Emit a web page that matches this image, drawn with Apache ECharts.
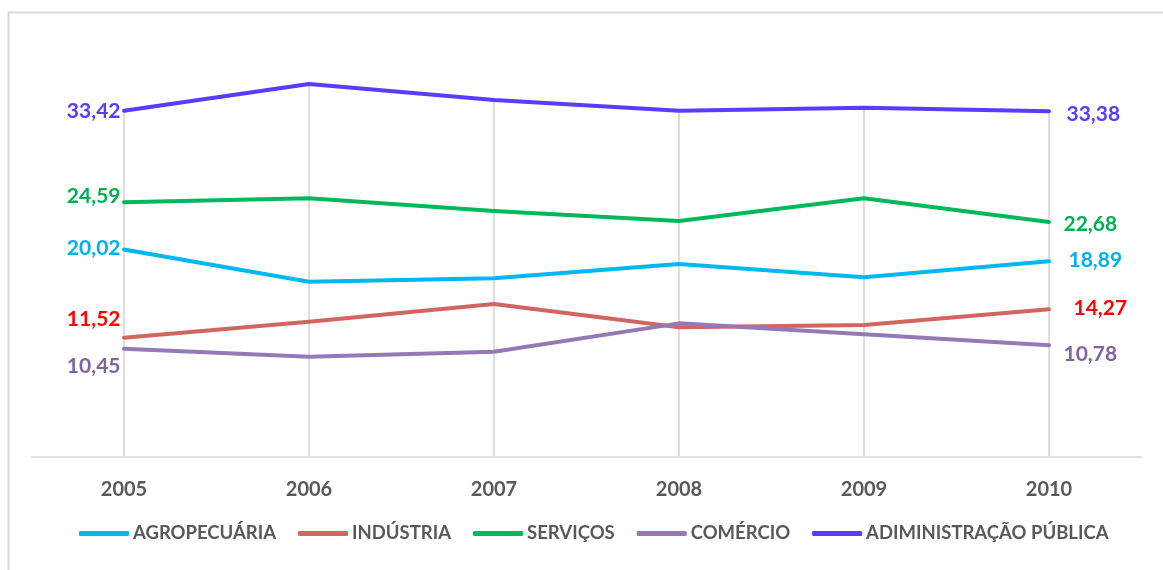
<!DOCTYPE html>
<html><head><meta charset="utf-8">
<script src="https://cdn.jsdelivr.net/npm/echarts@6/dist/echarts.min.js"></script>
<style>html,body{margin:0;padding:0;background:#fff}#c{width:1163px;height:570px}</style>
</head><body><div id="c"></div>
<script>
const years = ['2005','2006','2007','2008','2009','2010'];
const agropecuaria = [20.02, 16.92, 17.25, 18.63, 17.35, 18.89];
const industria = [11.52, 13.06, 14.77, 12.52, 12.74, 14.27];
const servicos = [24.59, 24.97, 23.75, 22.78, 24.98, 22.68];
const comercio = [10.45, 9.68, 10.16, 12.90, 11.84, 10.78];
const administracao = [33.42, 36.00, 34.46, 33.43, 33.70, 33.38];

const names = ['AGROPECUÁRIA','INDÚSTRIA','SERVIÇOS','COMÉRCIO','ADIMINISTRAÇÃO PÚBLICA'];
const lineColors = ['#00B7F1','#D0665E','#00B85C','#9479B4','#5B3BFF'];
const labelColors = ['#00B0F0','#FF0000','#00B050','#8064A2','#5B3BFF'];
const seriesData = [agropecuaria, industria, servicos, comercio, administracao];
const leftOff = [-1, -18, -6, 17, 0];
const rightOff = [-1, -1, 2, 9, 3];
const rightDist = [19, 24, 14, 14, 17];

const fmt = v => v.toFixed(2).replace('.', ',');
const font = 'Lato, "Open Sans", sans-serif';

const chart = echarts.init(document.getElementById('c'));
const series = seriesData.map((arr, s) => ({
  name: names[s], type: 'line', z: 3,
  symbol: 'circle', symbolSize: 1, showSymbol: true, showAllSymbol: true,
  lineStyle: { color: lineColors[s], width: 4, cap: 'round', join: 'round' },
  itemStyle: { color: lineColors[s] },
  emphasis: { disabled: true },
  data: arr.map((v, i) => {
    const d = { value: v };
    if (i === 0) d.label = { show: true, position: 'left', distance: 3, offset: [0, leftOff[s]] };
    else if (i === arr.length - 1) d.label = { show: true, position: 'right', distance: rightDist[s], offset: [0, rightOff[s]] };
    else d.label = { show: false };
    return d;
  }),
  label: { color: labelColors[s], fontFamily: font, fontWeight: 'bold', fontSize: 21, formatter: p => fmt(p.value) }
}));
series.unshift({
  name: 'drop', type: 'bar', barWidth: 2, silent: true, z: 1,
  itemStyle: { color: '#DEDEDE' },
  data: years.map((y, i) => Math.max(...seriesData.map(a => a[i])))
});

chart.setOption({
  backgroundColor: '#fff',
  animation: false,
  graphic: [{ type: 'rect', shape: { x: 8.5, y: 12.5, width: 1300, height: 700 }, style: { fill: 'none', stroke: '#D9D9D9', lineWidth: 2 }, silent: true }],
  grid: { left: 31.5, right: 21.5, top: 42.6, bottom: 113 },
  legend: {
    data: names, bottom: 22, left: 74, itemWidth: 50, itemHeight: 5, itemGap: 22,
    icon: 'roundRect',
    textStyle: { color: '#595959', fontFamily: font, fontWeight: 'bold', fontSize: 18.5, padding: [0, 0, 0, -1] }
  },
  xAxis: {
    type: 'category', data: years, boundaryGap: true,
    axisLine: { lineStyle: { color: '#D9D9D9', width: 1.5 } },
    axisTick: { show: false },
    axisLabel: { color: '#595959', fontFamily: font, fontWeight: 'bold', fontSize: 20, margin: 23 }
  },
  yAxis: {
    type: 'value', min: 0, max: 40, interval: 5,
    axisLine: { show: false }, axisTick: { show: false }, axisLabel: { show: false }, splitLine: { show: false }
  },
  series
});
</script></body></html>
